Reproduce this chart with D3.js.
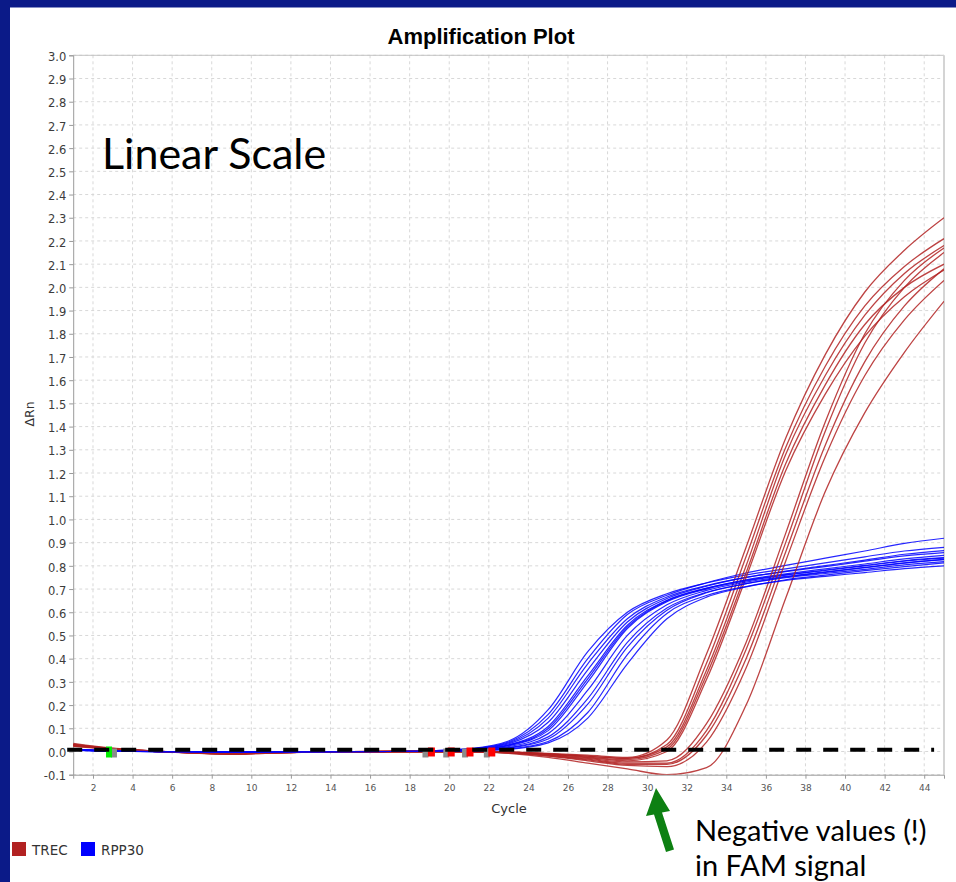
<!DOCTYPE html>
<html>
<head>
<meta charset="utf-8">
<script src="https://cdn.jsdelivr.net/npm/d3@7"></script>
<style>
  html, body { margin: 0; padding: 0; background: #0b1a88; overflow: hidden; }
  svg { display: block; }
</style>
</head>
<body>
<div id="chart"></div>
<script>
const cycles = [1, 3, 5, 7, 9, 11, 13, 15, 17, 19, 21, 23, 25, 27, 29, 31, 33, 35, 37, 39, 41, 43, 45];
const xTicks = [2, 4, 6, 8, 10, 12, 14, 16, 18, 20, 22, 24, 26, 28, 30, 32, 34, 36, 38, 40, 42, 44];
const yTicks = [-0.1, 0.0, 0.1, 0.2, 0.3, 0.4, 0.5, 0.6, 0.7, 0.8, 0.9, 1.0, 1.1, 1.2, 1.3, 1.4, 1.5,
  1.6, 1.7, 1.8, 1.9, 2.0, 2.1, 2.2, 2.3, 2.4, 2.5, 2.6, 2.7, 2.8, 2.9, 3.0];

// TREC (FAM) delta Rn per well
const trec = [
  [0.035, 0.014, 0.003, -0.004, -0.007, -0.004, -0.002, -0.001, 0.000, 0.000, 0.000, -0.002, -0.008, -0.016, -0.025, 0.050, 0.42, 0.88, 1.35, 1.71, 1.98, 2.16, 2.30],
  [0.030, 0.012, 0.002, -0.005, -0.008, -0.005, -0.002, -0.001, 0.000, 0.000, 0.000, -0.003, -0.010, -0.020, -0.030, 0.030, 0.38, 0.84, 1.31, 1.66, 1.92, 2.09, 2.21],
  [0.028, 0.011, 0.002, -0.006, -0.010, -0.006, -0.003, -0.001, 0.000, 0.000, 0.000, -0.003, -0.010, -0.020, -0.030, 0.020, 0.35, 0.80, 1.28, 1.62, 1.88, 2.06, 2.18],
  [0.025, 0.010, 0.001, -0.006, -0.010, -0.006, -0.003, -0.002, -0.001, 0.000, 0.000, -0.004, -0.012, -0.024, -0.035, 0.010, 0.33, 0.77, 1.24, 1.58, 1.84, 2.00, 2.10],
  [0.022, 0.009, 0.001, -0.005, -0.009, -0.005, -0.002, -0.001, 0.000, 0.000, 0.000, -0.004, -0.013, -0.026, -0.040, 0.000, 0.31, 0.75, 1.21, 1.54, 1.79, 1.96, 2.075],
  [0.032, 0.013, 0.002, -0.006, -0.011, -0.007, -0.003, -0.001, 0.000, 0.000, 0.000, -0.005, -0.016, -0.030, -0.045, -0.040, 0.12, 0.47, 0.94, 1.42, 1.80, 2.03, 2.17],
  [0.027, 0.011, 0.001, -0.007, -0.012, -0.007, -0.003, -0.002, -0.001, 0.000, 0.000, -0.005, -0.017, -0.033, -0.050, -0.050, 0.09, 0.44, 0.90, 1.38, 1.76, 2.00, 2.15],
  [0.024, 0.010, 0.001, -0.006, -0.010, -0.006, -0.003, -0.001, 0.000, 0.000, 0.000, -0.006, -0.019, -0.036, -0.055, -0.055, 0.07, 0.40, 0.86, 1.32, 1.68, 1.92, 2.08],
  [0.030, 0.012, 0.002, -0.005, -0.009, -0.005, -0.002, -0.001, 0.000, 0.000, 0.000, -0.006, -0.020, -0.040, -0.060, -0.065, 0.04, 0.36, 0.82, 1.27, 1.62, 1.86, 2.03],
  [0.026, 0.010, 0.001, -0.006, -0.011, -0.006, -0.003, -0.001, 0.000, 0.000, 0.000, -0.008, -0.025, -0.050, -0.075, -0.100, -0.07, 0.20, 0.66, 1.12, 1.46, 1.72, 1.94]
];

// RPP30 (VIC) delta Rn per well
const rpp30 = [
  [0.008, 0.003, 0.000, -0.002, -0.003, -0.003, -0.002, -0.002, 0.000, 0.003, 0.012, 0.045, 0.180, 0.430, 0.600, 0.680, 0.726, 0.761, 0.787, 0.813, 0.839, 0.864, 0.880],
  [0.006, 0.002, -0.001, -0.003, -0.004, -0.003, -0.002, -0.001, 0.000, 0.003, 0.011, 0.041, 0.160, 0.400, 0.590, 0.673, 0.727, 0.769, 0.802, 0.833, 0.864, 0.897, 0.919],
  [0.007, 0.002, 0.000, -0.002, -0.003, -0.003, -0.002, -0.001, 0.000, 0.002, 0.009, 0.037, 0.144, 0.378, 0.572, 0.666, 0.715, 0.750, 0.775, 0.797, 0.820, 0.843, 0.857],
  [0.009, 0.003, 0.000, -0.002, -0.003, -0.002, -0.002, -0.001, 0.000, 0.002, 0.008, 0.033, 0.126, 0.352, 0.558, 0.659, 0.712, 0.750, 0.777, 0.801, 0.825, 0.850, 0.866],
  [0.005, 0.002, -0.001, -0.003, -0.004, -0.003, -0.002, -0.001, 0.000, 0.002, 0.007, 0.029, 0.108, 0.326, 0.544, 0.652, 0.704, 0.738, 0.762, 0.782, 0.802, 0.822, 0.835],
  [0.007, 0.003, 0.000, -0.002, -0.003, -0.003, -0.002, -0.001, 0.000, 0.002, 0.007, 0.027, 0.099, 0.313, 0.537, 0.649, 0.703, 0.740, 0.765, 0.787, 0.808, 0.830, 0.845],
  [0.008, 0.003, 0.000, -0.002, -0.003, -0.002, -0.002, -0.001, 0.000, 0.002, 0.006, 0.025, 0.090, 0.300, 0.530, 0.645, 0.700, 0.735, 0.760, 0.780, 0.800, 0.820, 0.833],
  [0.006, 0.002, 0.000, -0.002, -0.003, -0.003, -0.002, -0.001, 0.000, 0.001, 0.005, 0.021, 0.077, 0.264, 0.500, 0.632, 0.694, 0.730, 0.755, 0.774, 0.793, 0.813, 0.827],
  [0.007, 0.002, 0.000, -0.002, -0.003, -0.003, -0.002, -0.001, 0.000, 0.001, 0.004, 0.017, 0.063, 0.228, 0.470, 0.618, 0.686, 0.723, 0.749, 0.767, 0.785, 0.804, 0.818],
  [0.008, 0.003, 0.000, -0.002, -0.003, -0.002, -0.002, -0.001, 0.000, 0.001, 0.004, 0.015, 0.054, 0.204, 0.450, 0.609, 0.684, 0.723, 0.752, 0.772, 0.792, 0.812, 0.828],
  [0.006, 0.002, -0.001, -0.003, -0.004, -0.003, -0.002, -0.001, 0.000, 0.001, 0.003, 0.011, 0.043, 0.168, 0.417, 0.595, 0.672, 0.711, 0.737, 0.755, 0.771, 0.788, 0.800],
  [0.007, 0.002, 0.000, -0.002, -0.003, -0.003, -0.002, -0.001, 0.000, 0.001, 0.002, 0.009, 0.037, 0.144, 0.378, 0.572, 0.665, 0.709, 0.740, 0.760, 0.779, 0.797, 0.813]
];

const threshold = 0.008;
// baseline start / end markers (cycle positions)
const greenMarks = [2.81];
const greyMarks = [3.06, 18.8, 19.85, 20.8, 21.9];
const redMarks = [19.1, 20.1, 21.05, 22.15];

const seriesNames = ["TREC", "RPP30"];
const seriesColors = ["#b22222", "#0000ff"];

const W = 956, H = 882;
const plotLeft = 73.2, plotRight = 944, plotTop = 55.3, plotBottom = 774.7;

const svg = d3.select("#chart").append("svg")
  .attr("width", W)
  .attr("height", H);

// slide background + white panel
svg.append("rect").attr("width", W).attr("height", H).attr("fill", "#0b1a88");
svg.append("rect").attr("x", 10).attr("y", 7.5).attr("width", W - 10).attr("height", H - 7.5).attr("fill", "#fff");

const x = d3.scaleLinear().domain([1, 45]).range([plotLeft, plotRight]);
const y = d3.scaleLinear().domain([-0.1, 3.0]).range([plotBottom, plotTop]);

// grid
svg.append("g")
  .selectAll("line")
  .data(yTicks)
  .enter()
  .append("line")
  .attr("x1", plotLeft).attr("x2", plotRight)
  .attr("y1", (d) => y(d)).attr("y2", (d) => y(d))
  .attr("stroke", "#d8d8d8")
  .attr("stroke-dasharray", "3,3");

svg.append("g")
  .selectAll("line")
  .data(xTicks)
  .enter()
  .append("line")
  .attr("x1", (d) => x(d)).attr("x2", (d) => x(d))
  .attr("y1", plotTop).attr("y2", plotBottom)
  .attr("stroke", "#d8d8d8")
  .attr("stroke-dasharray", "3,3");

// frame
svg.append("line").attr("x1", plotLeft).attr("x2", plotRight).attr("y1", plotTop).attr("y2", plotTop)
  .attr("stroke", "#c4c4c4");
svg.append("line").attr("x1", plotRight).attr("x2", plotRight).attr("y1", plotTop).attr("y2", plotBottom)
  .attr("stroke", "#d4d4d4").attr("stroke-width", 2);

// axes
const yAxis = svg.append("g")
  .attr("transform", `translate(${plotLeft},0)`)
  .call(d3.axisLeft(y).tickValues(yTicks).tickFormat((d) => d.toFixed(1)).tickSize(4).tickPadding(3));
yAxis.selectAll("text")
  .attr("font-family", "DejaVu Sans")
  .attr("font-size", 11.5)
  .attr("fill", "#3c3c3c")
  .attr("dy", "0.45em");

const xAxis = svg.append("g")
  .attr("transform", `translate(0,${plotBottom})`)
  .call(d3.axisBottom(x).tickValues(xTicks).tickSize(4).tickPadding(6));
xAxis.selectAll("text")
  .attr("font-family", "DejaVu Sans")
  .attr("font-size", 9)
  .attr("fill", "#555");

svg.selectAll(".domain").attr("stroke", "#9a9a9a");
svg.selectAll(".tick line").attr("stroke", "#9a9a9a");

// curves
svg.append("clipPath").attr("id", "plot-clip")
  .append("rect")
  .attr("x", plotLeft).attr("y", plotTop)
  .attr("width", plotRight - plotLeft).attr("height", plotBottom - plotTop);

const line = d3.line()
  .x((d, i) => x(cycles[i]))
  .y((d) => y(d))
  .curve(d3.curveMonotoneX);

const curves = svg.append("g").attr("clip-path", "url(#plot-clip)");
for (let i = 0; i < rpp30.length; i++) {
  curves.append("path")
    .attr("d", line(rpp30[i]))
    .attr("fill", "none")
    .attr("stroke", seriesColors[1])
    .attr("stroke-opacity", 0.85)
    .attr("stroke-width", 1.2);
  if (i < trec.length) {
    curves.append("path")
      .attr("d", line(trec[i]))
      .attr("fill", "none")
      .attr("stroke", seriesColors[0])
      .attr("stroke-opacity", 0.85)
      .attr("stroke-width", 1.3);
  }
}

// baseline markers
svg.append("g").selectAll("rect")
  .data(greyMarks)
  .enter()
  .append("rect")
  .attr("x", (d) => x(d) - 3)
  .attr("y", y(0) - 3)
  .attr("width", 6).attr("height", 9)
  .attr("fill", "#8c8c8c");
svg.append("g").selectAll("rect")
  .data(redMarks)
  .enter()
  .append("rect")
  .attr("x", (d) => x(d) - 3.5)
  .attr("y", y(0) - 4)
  .attr("width", 7).attr("height", 9)
  .attr("fill", "#ff0000");
svg.append("g").selectAll("rect")
  .data(greenMarks)
  .enter()
  .append("rect")
  .attr("x", (d) => x(d) - 3)
  .attr("y", y(0) - 5)
  .attr("width", 6).attr("height", 11)
  .attr("fill", "#00ee00");

// threshold
svg.append("line")
  .attr("x1", plotLeft - 6).attr("x2", x(44.5))
  .attr("y1", y(threshold)).attr("y2", y(threshold))
  .attr("stroke", "#000")
  .attr("stroke-width", 4)
  .attr("stroke-dasharray", "15,12");

// titles
svg.append("text")
  .text("Amplification Plot")
  .attr("x", 481).attr("y", 44)
  .attr("text-anchor", "middle")
  .attr("font-family", "Liberation Sans, Arial, sans-serif")
  .attr("font-weight", 700)
  .attr("font-size", 22)
  .attr("fill", "#000");

svg.append("text")
  .text("Cycle")
  .attr("x", 509).attr("y", 813)
  .attr("text-anchor", "middle")
  .attr("font-family", "DejaVu Sans")
  .attr("font-size", 13)
  .attr("fill", "#333");

svg.append("text")
  .text("ΔRn")
  .attr("transform", "translate(34,414) rotate(-90)")
  .attr("text-anchor", "middle")
  .attr("font-family", "DejaVu Sans")
  .attr("font-size", 12.5)
  .attr("fill", "#333");

svg.append("text")
  .text("Linear Scale")
  .attr("x", 102).attr("y", 169)
  .attr("font-family", "Lato")
  .attr("font-size", 43)
  .attr("fill", "#000");

// legend
const legend = svg.append("g")
  .selectAll("g")
  .data(seriesNames)
  .enter()
  .append("g")
  .attr("transform", (d, i) => `translate(${12 + i * 69},842)`);
legend.append("rect")
  .attr("width", 14).attr("height", 14)
  .attr("fill", (d, i) => seriesColors[i]);
legend.append("text")
  .text((d) => d)
  .attr("x", 20).attr("y", 12.5)
  .attr("font-family", "DejaVu Sans")
  .attr("font-size", 13.5)
  .attr("fill", "#333");

// annotation
svg.append("path")
  .attr("d", "M656,788 L646,816 L654,814.5 L666,852 L674,849.5 L662,812.5 L670,811 Z")
  .attr("fill", "#0d8012");

const noteLines = ["Negative values (!)", "in FAM signal"];
svg.append("g")
  .selectAll("text")
  .data(noteLines)
  .enter()
  .append("text")
  .text((d) => d)
  .attr("x", 695)
  .attr("y", (d, i) => 841 + i * 34.5)
  .attr("font-family", "Lato")
  .attr("font-size", 29)
  .attr("fill", "#000");
</script>
</body>
</html>
